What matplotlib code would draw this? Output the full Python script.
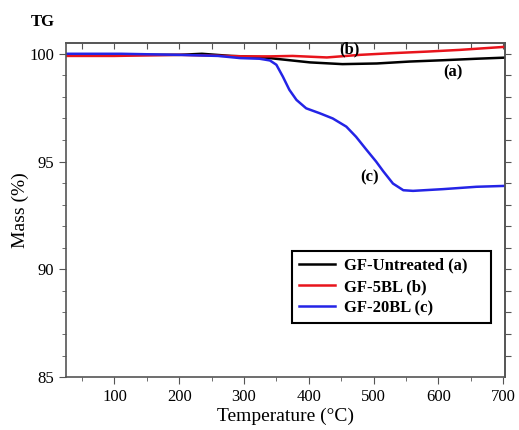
import numpy as np
import matplotlib
matplotlib.use("Agg")
import matplotlib.pyplot as plt

plt.rcParams['font.family'] = ['Liberation Serif', 'DejaVu Serif']

# GF-Untreated (a)
temp_a = [25, 100, 200, 235, 280, 300, 324, 355, 402, 452, 505, 556, 607, 659, 702]
mass_a = [99.95, 99.95, 99.95, 100.0, 99.9, 99.88, 99.85, 99.75, 99.6, 99.52, 99.55, 99.64, 99.7, 99.77, 99.82]

# GF-5BL (b)
temp_b = [25, 100, 200, 300, 340, 375, 428, 479, 530, 582, 633, 702]
mass_b = [99.9, 99.9, 99.95, 99.88, 99.88, 99.9, 99.83, 99.95, 100.03, 100.1, 100.18, 100.32]

# GF-20BL (c)
temp_c = [25, 110, 200, 260, 294, 324, 340, 350, 360, 370, 381, 396, 417, 437, 458,
          473, 489, 504, 515, 530, 546, 561, 607, 659, 702]
mass_c = [100.0, 100.0, 99.95, 99.9, 99.8, 99.77, 99.69, 99.49, 98.94, 98.33, 97.86, 97.47, 97.24, 97.0, 96.62,
          96.15, 95.55, 95.0, 94.55, 93.98, 93.67, 93.64, 93.72, 93.83, 93.87]

labels = ['GF-Untreated (a)', 'GF-5BL (b)', 'GF-20BL (c)']

fig = plt.figure(figsize=(5.19, 4.30), dpi=100)
ax = fig.add_axes([0.127, 0.123, 0.846, 0.777])

ax.plot(temp_a, mass_a, color='black', lw=1.8, label=labels[0])
ax.plot(temp_b, mass_b, color='#e8141c', lw=1.8, label=labels[1])
ax.plot(temp_c, mass_c, color='#2424e6', lw=1.8, label=labels[2])

ax.set_xlim(25, 703)
ax.set_ylim(85, 100.5)
ax.set_xticks(np.arange(100, 701, 100))
ax.set_xticks(np.arange(50, 701, 100), minor=True)
ax.set_yticks([85, 90, 95, 100])
ax.set_yticks(np.arange(86, 100, 1), minor=True)
ax.tick_params(which='both', direction='out', labelsize=12, color='#555555')
ax.tick_params(which='major', length=5)
ax.tick_params(which='minor', length=3)

top = ax.secondary_xaxis('top')
top.set_xticks(np.arange(50, 701, 50))
top.tick_params(direction='in', length=4, labeltop=False, color='#555555')
right = ax.secondary_yaxis('right')
right.set_yticks(np.arange(86, 101, 1))
right.tick_params(direction='out', length=4, labelright=False, color='#555555')

for s in list(ax.spines.values()) + [top.spines['top'], right.spines['right']]:
    s.set_color('#555555')
    s.set_linewidth(1.2)

ax.set_xlabel('Temperature (°C)', fontsize=14, labelpad=2)
ax.set_ylabel('Mass (%)', fontsize=14, labelpad=0)

ax.text(463, 100.2, '(b)', fontsize=12, fontweight='bold', ha='center', va='center')
ax.text(622, 99.15, '(a)', fontsize=12, fontweight='bold', ha='center', va='center')
ax.text(494, 94.25, '(c)', fontsize=12, fontweight='bold', ha='center', va='center')
fig.text(0.083, 0.948, 'TG', fontsize=12, fontweight='bold', ha='center', va='center')

leg = ax.legend(loc='lower left', bbox_to_anchor=(0.515, 0.162, 0.453, 0.2), mode='expand',
                prop={'weight': 'bold', 'size': 12}, fancybox=False, framealpha=1,
                handlelength=2.2, borderpad=0.4, labelspacing=0.32, handletextpad=0.5,
                borderaxespad=0)
leg.get_frame().set_edgecolor('black')
leg.get_frame().set_linewidth(1.5)

fig.savefig('out.png', dpi=100)
